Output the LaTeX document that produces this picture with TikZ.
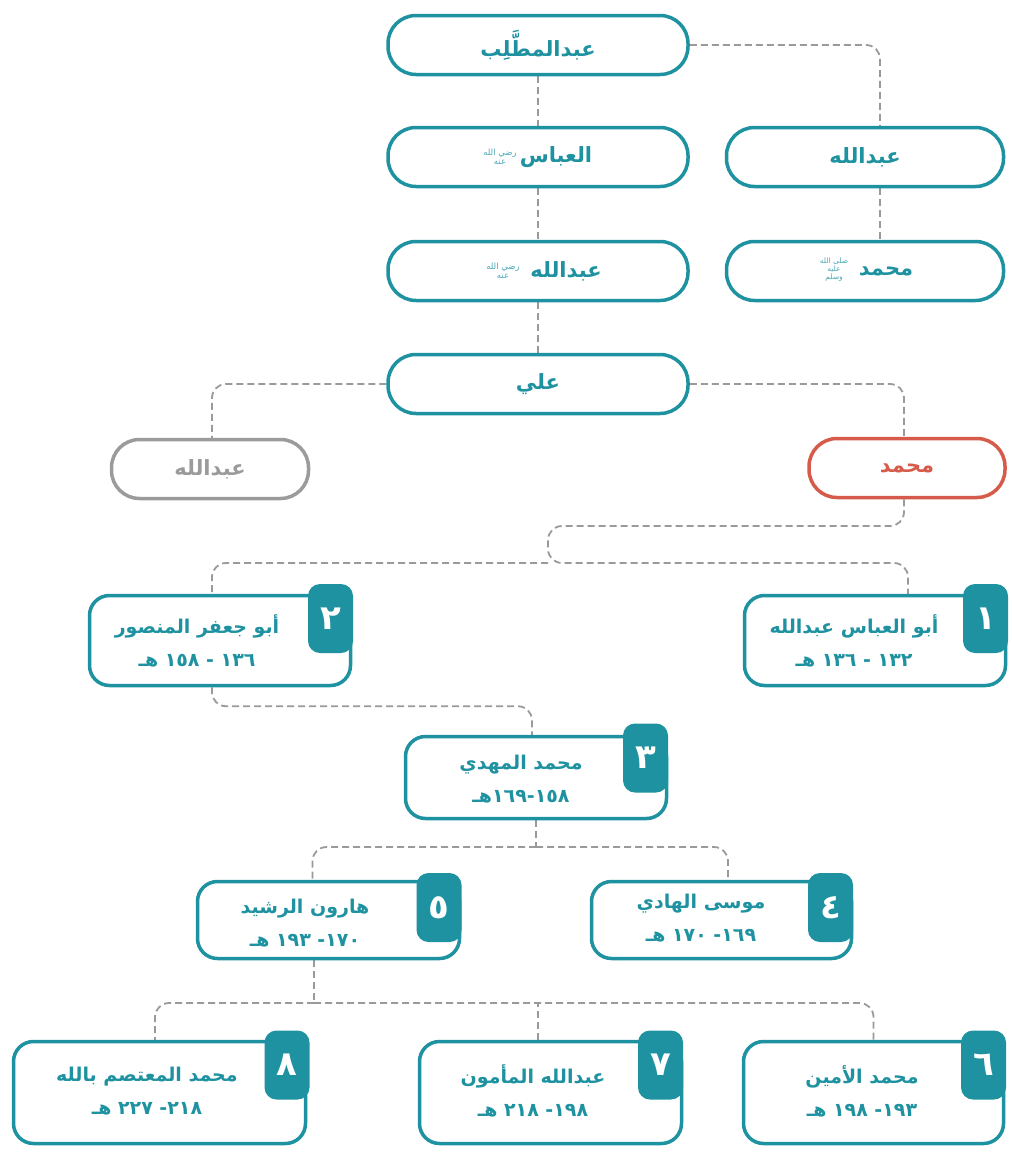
\documentclass[tikz,border=0pt]{standalone}
\usepackage{fontspec}
\usetikzlibrary{positioning}
\TeXXeTstate=1
\newfontfamily\arabicfont[Script=Arabic]{DejaVu Sans}
\definecolor{tealc}{HTML}{1E92A0}
\definecolor{tealL}{HTML}{4AA9B6}
\definecolor{redc}{HTML}{D75B4B}
\definecolor{greyc}{HTML}{9B9B9B}
\definecolor{connc}{HTML}{9A9A9A}
\pgfdeclarelayer{bg}
\pgfsetlayers{bg,main}
\tikzset{
  pill/.style={draw=tealc, line width=3.5pt, rounded corners=28pt, fill=white,
    minimum width=300pt, minimum height=59pt, inner sep=0pt, text=tealc,
    font=\arabicfont\bfseries\fontsize{21}{24}\selectfont},
  ptext/.style={text=tealc, inner sep=0pt, font=\arabicfont\bfseries\fontsize{21}{24}\selectfont},
  cbox/.style={draw=tealc, line width=3.5pt, rounded corners=20pt, fill=white, inner sep=0pt},
  tabbox/.style={fill=tealc, rounded corners=12pt, minimum width=45pt, minimum height=69pt,
    inner sep=0pt, text=white, font=\arabicfont\bfseries\fontsize{34}{36}\selectfont},
  ctext/.style={text=tealc, align=center, inner sep=0pt,
    font=\arabicfont\bfseries\fontsize{19}{33}\selectfont},
  conn/.style={draw=connc, line width=1.8pt, dash pattern=on 7pt off 4pt, rounded corners=14pt},
  hon/.style={text=tealL, align=center, inner sep=0pt, font=\arabicfont\fontsize{8.5}{9}\selectfont}
}
\begin{document}
\begin{tikzpicture}[x=1pt,y=-1pt]
\useasboundingbox (0,0) rectangle (1012,1154);
% family pills
\node[pill] (mut) at (538,45) {\beginR عبدالمطَّلِب\endR};
\node[pill] (abb) at (538,157) {};
\node[ptext] (abbt) at (556,157) {\beginR العباس\endR};
\node[hon] (abbh) at (500,157) {\beginR رضي الله\endR\\\beginR عنه\endR};
\node[pill, minimum width=277pt] (abR) at (865,157) {\beginR عبدالله\endR};
\node[pill] (abA) at (538,271) {};
\node[ptext] (abAt) at (566,271) {\beginR عبدالله\endR};
\node[hon] (abAh) at (503,271) {\beginR رضي الله\endR\\\beginR عنه\endR};
\node[pill, minimum width=277pt] (muP) at (865,271) {};
\node[ptext] (muPt) at (886,271) {\beginR محمد\endR};
\node[hon, font=\arabicfont\fontsize{7.5}{8}\selectfont] (muPh) at (834,270) {\beginR صلى الله\endR\\\beginR عليه\endR\\\beginR وسلم\endR};
\node[pill] (ali) at (538,384) {\beginR علي\endR};
\node[pill, draw=greyc, text=greyc, minimum width=197pt] (abG) at (210,469) {\beginR عبدالله\endR};
\node[pill, draw=redc, text=redc, minimum width=196pt] (muR) at (907,468) {\beginR محمد\endR};
% caliph boxes
\node[cbox, minimum width=261pt, minimum height=90pt] (b1) at (875,640.5) {};
\node[tabbox] (t1) at (985.5,618.5) {١};
\node[ctext] (x1) at (854,641) {\beginR أبو العباس عبدالله\endR\\ \beginR\beginL١٣٢\endL{} - \beginL١٣٦\endL{} هـ\endR};
\node[cbox, minimum width=261pt, minimum height=90pt] (b2) at (220,640.5) {};
\node[tabbox] (t2) at (330.5,618.5) {٢};
\node[ctext] (x2) at (197,641) {\beginR أبو جعفر المنصور\endR\\ \beginR\beginL١٣٦\endL{} - \beginL١٥٨\endL{} هـ\endR};
\node[cbox, minimum width=261pt, minimum height=82pt] (b3) at (536,777.5) {};
\node[tabbox] (t3) at (645.5,758) {٣};
\node[ctext] (x3) at (521,779) {\beginR محمد المهدي\endR\\ \beginR\beginL١٥٨\endL{}-\beginL١٦٩\endL{}هـ\endR};
\node[cbox, minimum width=260pt, minimum height=77pt] (b4) at (721.5,920) {};
\node[tabbox] (t4) at (830.5,907.5) {٤};
\node[ctext] (x4) at (701,918) {\beginR موسى الهادي\endR\\ \beginR\beginL١٦٩\endL{}- \beginL١٧٠\endL{} هـ\endR};
\node[cbox, minimum width=262pt, minimum height=77pt] (b5) at (328.5,920) {};
\node[tabbox] (t5) at (439,907.5) {٥};
\node[ctext] (x5) at (305,923) {\beginR هارون الرشيد\endR\\ \beginR\beginL١٧٠\endL{}- \beginL١٩٣\endL{} هـ\endR};
\node[cbox, minimum width=260pt, minimum height=102pt] (b6) at (873.5,1092.5) {};
\node[tabbox] (t6) at (983.5,1065) {٦};
\node[ctext] (x6) at (862,1091) {\beginR محمد الأمين\endR\\ \beginR\beginL١٩٣\endL{}- \beginL١٩٨\endL{} هـ\endR};
\node[cbox, minimum width=262pt, minimum height=102pt] (b7) at (550.5,1092.5) {};
\node[tabbox] (t7) at (660.5,1065) {٧};
\node[ctext] (x7) at (533,1091) {\beginR عبدالله المأمون\endR\\ \beginR\beginL١٩٨\endL{}- \beginL٢١٨\endL{} هـ\endR};
\node[cbox, minimum width=292pt, minimum height=102pt] (b8) at (159.5,1092.5) {};
\node[tabbox] (t8) at (287,1065) {٨};
\node[ctext] (x8) at (147,1091) {\beginR محمد المعتصم بالله\endR\\ \beginR\beginL٢١٨\endL{}- \beginL٢٢٧\endL{} هـ\endR};
% connectors
\coordinate (j1) at (548,563);
\coordinate (j3) at (536,847);
\coordinate (j4) at (314,1003);
\begin{pgfonlayer}{bg}
\draw[conn] (mut.east) -| ([xshift=15pt]abR.north);
\draw[conn] (mut.south) -- (abb.north);
\draw[conn] (abb.south) -- (abA.north);
\draw[conn] ([xshift=15pt]abR.south) -- ([xshift=15pt]muP.north);
\draw[conn] (abA.south) -- (ali.north);
\draw[conn] (ali.west) -| ([xshift=2pt]abG.north);
\draw[conn] (ali.east) -| ([xshift=-3pt]muR.north);
\draw[conn] ([xshift=-3pt]muR.south) |- (548,526) -- (j1) -| ([xshift=33pt]b1.north);
\draw[conn] (j1) -| ([xshift=-8pt]b2.north);
\draw[conn] ([xshift=-8pt]b2.south) -- ++(0,19) -| ([xshift=-4pt]b3.north);
\draw[conn] (b3.south) -- (j3);
\draw[conn] (j3) -| ([xshift=-16pt]b5.north);
\draw[conn] (j3) -| ([xshift=6.5pt]b4.north);
\draw[conn] ([xshift=-14.5pt]b5.south) -- (j4);
\draw[conn] (j4) -| ([xshift=-4.5pt]b8.north);
\draw[conn] (j4) -| (b6.north);
\draw[conn] ([xshift=-12.5pt]b7.north) -- ([xshift=-12.5pt]b7.north |- j4);
\end{pgfonlayer}
\end{tikzpicture}
\end{document}
